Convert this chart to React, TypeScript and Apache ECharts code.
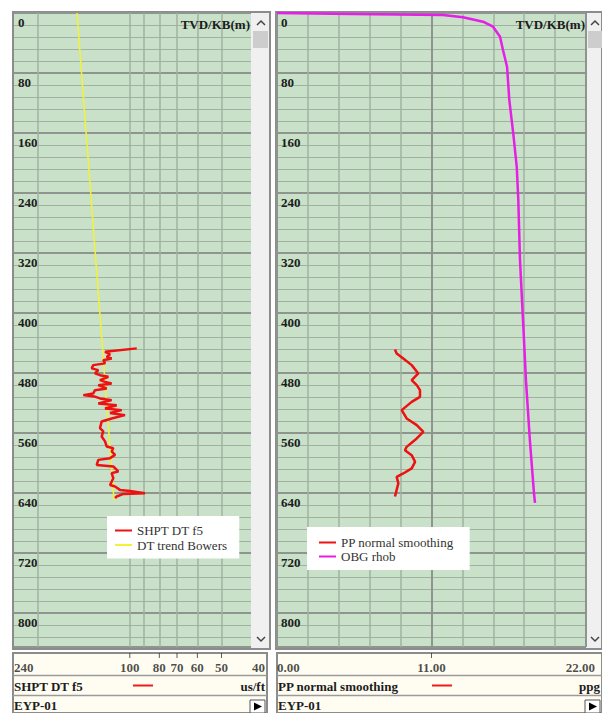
import React, { useEffect, useRef } from "react";
import * as echarts from "echarts";

// ---- axes ----
const DEPTH_MIN = 0;
const DEPTH_MAX = 845;
const DEPTH_MINOR = 16;
const DEPTH_MAJOR = 80;

const DT_MIN = 40;
const DT_MAX = 240;
const dtGridLines = [200, 100, 90, 80, 70, 60, 50];
const dtHeaderTicks = [100, 80, 70, 60, 50];
const dtHeaderLabels = [240, 100, 80, 70, 60, 50, 40];

const PP_MIN = 0;
const PP_MAX = 22;
const PP_MINOR = 2.2;
const PP_MAJOR = 11;
const ppHeaderTicks = [11];
const ppHeaderLabels = [0, 11, 22];

// ---- data (depth m, value) ----
const shptDepth = [447, 451.6, 454.7, 458.3, 460.4, 462.7, 467, 469.3, 473.7, 476, 480.4, 482.7, 484.9, 489.3, 491.6, 493.7, 496, 500.4, 502.7, 507, 509.3, 511, 513.7, 516, 520.4, 522.7, 527, 529.3, 533, 536, 540.4, 544.4, 553.3, 557.7, 564.4, 571, 577.7, 580, 584.4, 589, 593.3, 595.6, 602.3, 604.4, 611, 613.3, 620, 629, 631, 635.6, 637, 640, 641, 644.4, 646.7];
const shptDT = [94.9, 120.6, 116.1, 119.1, 114.7, 122.2, 120.6, 131.8, 133.4, 126.9, 130.1, 125.3, 117.6, 125.3, 120.6, 114.7, 126.9, 119.1, 130.1, 131.8, 142.1, 131, 125.3, 114.7, 126.9, 110.4, 120.6, 106.3, 116.1, 103.7, 114.7, 123.7, 125.3, 122.2, 123.7, 120.6, 119.1, 113.3, 114.7, 111.8, 116.1, 126.9, 128.4, 113.3, 109.1, 114.7, 113.3, 116.1, 111.8, 107.7, 99.8, 89.2, 105, 110.4, 111.8];

const trendDepth = [0, 100, 200, 300, 400, 500, 600, 650];
const trendDT = [149, 142.8, 136.7, 131, 125.4, 120.2, 115.1, 112.7];

const ppDepth = [448.4, 453.7, 460.4, 469.3, 480.4, 489.3, 496, 502.7, 511.6, 518.3, 529.3, 540.4, 549.3, 558.3, 567, 578.3, 582.7, 589.3, 598.3, 607, 613.7, 618.3, 627, 635.6, 644.4];
const ppValue = [8.4, 8.52, 8.99, 9.59, 10.06, 9.59, 9.95, 10.18, 10.18, 9.59, 8.88, 9.23, 9.95, 10.42, 9.95, 9.23, 9.11, 9.59, 9.83, 9.59, 8.99, 8.52, 8.64, 8.52, 8.4];

const obgDepth = [0, 1.3, 2.7, 5.7, 11.6, 18.3, 31.6, 49.3, 71.6, 116, 160.4, 205, 249, 329, 411, 491, 571, 641, 653];
const obgValue = [0, 5.41, 11.82, 13.24, 14.67, 15.38, 15.88, 16.09, 16.38, 16.54, 16.82, 17.07, 17.18, 17.3, 17.52, 17.73, 18.01, 18.3, 18.37];

const FONT = "Liberation Serif";
const GREEN = "#c8e1c8";
const MINOR = "#a2b0a2";
const MAJOR = "#8e948e";
const TEXT = "#1c1c1c";

const zip = (xs: number[], ys: number[]) => xs.map((x, i) => [x, ys[i]]);

function depthAxes(gridIndex: number) {
  return [
    {
      type: "value", gridIndex, position: "left", min: DEPTH_MIN, max: DEPTH_MAX, interval: DEPTH_MINOR, inverse: true,
      axisLine: { show: false }, axisTick: { show: false }, axisLabel: { show: false },
      splitLine: { show: true, lineStyle: { color: MINOR, width: 1 } },
    },
    {
      type: "value", gridIndex, position: "left", offset: 0, min: DEPTH_MIN, max: DEPTH_MAX, interval: DEPTH_MAJOR, inverse: true,
      axisLine: { show: false, onZero: false }, axisTick: { show: false },
      axisLabel: {
        show: true, inside: true, margin: 4, verticalAlign: "top", padding: [3, 0, 0, 0],
        fontFamily: FONT, fontWeight: "bold", fontSize: 13, color: TEXT,
        formatter: (v: number) => (v % DEPTH_MAJOR === 0 ? String(v) : ""),
      },
      splitLine: { show: true, lineStyle: { color: MAJOR, width: 2 } },
    },
  ];
}

function txt(text: string, x: number, y: number, align = "left", size = 13, bold = true) {
  return {
    type: "text", silent: true, z: 50,
    style: { text, x, y, align, verticalAlign: "middle", fontFamily: FONT, fontWeight: bold ? "bold" : "normal", fontSize: size, fill: TEXT },
  };
}
function rect(x: number, y: number, w: number, h: number, fill: string, stroke?: string, lw = 1, z = -5) {
  return { type: "rect", silent: true, z, shape: { x, y, width: w, height: h }, style: { fill, stroke: stroke || "none", lineWidth: lw } };
}
function hline(x1: number, x2: number, y: number, color: string, lw: number, z = 40) {
  return { type: "line", silent: true, z, shape: { x1, y1: y, x2, y2: y }, style: { stroke: color, lineWidth: lw } };
}
function chevron(cx: number, cy: number, up: boolean) {
  const d = up ? -2 : 2;
  return {
    type: "polyline", silent: true, z: 45,
    shape: { points: [[cx - 4, cy - d], [cx, cy + d], [cx + 4, cy - d]] },
    style: { stroke: "#444", lineWidth: 1.5, fill: "none" },
  };
}
function button(x: number) {
  return [
    rect(x, 700, 15, 13, "#ffffff", "#555", 1, 40),
    { type: "polygon", silent: true, z: 45, shape: { points: [[x + 4, 702.5], [x + 12, 706.5], [x + 4, 710.5]] }, style: { fill: "#000" } },
  ];
}

export default function App() {
  const ref = useRef<HTMLDivElement>(null);
  useEffect(() => {
    if (!ref.current) return;
    const chart = echarts.init(ref.current, null, { renderer: "svg" });
    const labelStyle = { fontFamily: FONT, fontWeight: "bold", fontSize: 13, color: TEXT };
    const lastDt = dtHeaderLabels.length - 1;
    const lastPp = ppHeaderLabels.length - 1;

    const graphic: any[] = [
      // panel frames
      rect(13, 12, 257, 637, "#f0f0f0", "#8c8c8c", 2, -10),
      rect(276, 12, 326, 637, "#f0f0f0", "#8c8c8c", 2, -10),
      // scrollbars
      rect(253, 31, 15, 17, "#cdcdcd", undefined, 1, 30),
      rect(588, 31, 14, 17, "#cdcdcd", undefined, 1, 30),
      chevron(261, 23, true), chevron(261, 639, false),
      chevron(595, 23, true), chevron(595, 639, false),
      // headers
      rect(13, 653, 254, 60, "#fffdf2", "#8c8c8c", 2, 20),
      rect(277, 653, 325, 60, "#fffdf2", "#8c8c8c", 2, 20),
      hline(13, 267, 675.5, "#9a9a9a", 1.5),
      hline(13, 267, 695.5, "#9a9a9a", 1.5),
      hline(277, 602, 675.5, "#9a9a9a", 1.5),
      hline(277, 602, 695.5, "#9a9a9a", 1.5),
      txt("TVD/KB(m)", 250, 24, "right"),
      txt("TVD/KB(m)", 585, 24, "right"),
      txt("SHPT DT f5", 14, 686),
      hline(133, 153, 685.5, "#ee1c1c", 2, 45),
      txt("us/ft", 265, 686, "right"),
      txt("EYP-01", 14, 705),
      ...button(250),
      txt("PP normal smoothing", 278, 686),
      hline(432, 452, 685.5, "#ee1c1c", 2, 45),
      txt("ppg", 600, 686, "right"),
      txt("EYP-01", 278, 705),
      ...button(585),
    ];

    const option: any = {
      animation: false,
      graphic,
      grid: [
        { left: 14, top: 13, width: 237, height: 634, show: true, backgroundColor: GREEN, borderWidth: 0 },
        { left: 277, top: 13, width: 309, height: 634, show: true, backgroundColor: GREEN, borderWidth: 0 },
        { left: 14, top: 653, width: 237, height: 22 },
        { left: 277, top: 653, width: 309, height: 22 },
      ],
      xAxis: [
        { type: "log", gridIndex: 0, min: DT_MIN, max: DT_MAX, inverse: true, show: false, splitLine: { show: false } },
        {
          type: "value", gridIndex: 1, min: PP_MIN, max: PP_MAX, interval: PP_MINOR,
          axisLine: { show: false }, axisTick: { show: false }, axisLabel: { show: false },
          splitLine: { show: true, lineStyle: { color: MINOR, width: 1.5 } },
        },
        {
          type: "value", gridIndex: 1, min: PP_MIN, max: PP_MAX, interval: PP_MAJOR,
          axisLine: { show: false }, axisTick: { show: false }, axisLabel: { show: false },
          splitLine: { show: true, lineStyle: { color: MAJOR, width: 2 } },
        },
        { type: "log", gridIndex: 2, min: DT_MIN, max: DT_MAX, inverse: true, show: false },
        { type: "value", gridIndex: 3, min: PP_MIN, max: PP_MAX, show: false },
      ],
      yAxis: [
        ...depthAxes(0),
        ...depthAxes(1),
        { type: "value", gridIndex: 2, min: 0, max: 1, show: false },
        { type: "value", gridIndex: 3, min: 0, max: 1, show: false },
      ],
      legend: [
        {
          data: ["SHPT DT f5", "DT trend Bowers"], left: 107, top: 516, orient: "vertical",
          backgroundColor: "#ffffff", padding: [8, 12, 7, 8], itemGap: 1.5, itemWidth: 17, itemHeight: 2,
          icon: "rect", selectedMode: false, textStyle: { fontFamily: FONT, fontSize: 13, color: "#333" },
        },
        {
          data: ["PP normal smoothing", "OBG rhob"], left: 307, top: 527, orient: "vertical",
          backgroundColor: "#ffffff", padding: [9, 16, 7, 12], itemGap: 1, itemWidth: 17, itemHeight: 2,
          icon: "rect", selectedMode: false, textStyle: { fontFamily: FONT, fontSize: 13, color: "#333" },
        },
      ],
      series: [
        {
          name: "DT trend Bowers", type: "line", xAxisIndex: 0, yAxisIndex: 1,
          data: zip(trendDT, trendDepth), showSymbol: false, silent: true, z: 3,
          lineStyle: { color: "#f2f23a", width: 1.5 }, itemStyle: { color: "#f2f23a" },
          markLine: {
            silent: true, symbol: "none", z: 1, animation: false, label: { show: false },
            lineStyle: { color: MINOR, width: 1.5, type: "solid" },
            emphasis: { disabled: true },
            data: dtGridLines.map((v) => ({ xAxis: v })),
          },
        },
        {
          name: "SHPT DT f5", type: "line", xAxisIndex: 0, yAxisIndex: 1,
          data: zip(shptDT, shptDepth), showSymbol: false, silent: true, z: 4,
          lineStyle: { color: "#ee1111", width: 2.5 }, itemStyle: { color: "#ee1111" },
        },
        {
          name: "PP normal smoothing", type: "line", xAxisIndex: 1, yAxisIndex: 3,
          data: zip(ppValue, ppDepth), showSymbol: false, silent: true, z: 4,
          lineStyle: { color: "#ee1111", width: 2.5 }, itemStyle: { color: "#ee1111" },
        },
        {
          name: "OBG rhob", type: "line", xAxisIndex: 1, yAxisIndex: 3,
          data: zip(obgValue, obgDepth), showSymbol: false, silent: true, z: 4,
          lineStyle: { color: "#e51fe5", width: 2.5 }, itemStyle: { color: "#e51fe5" },
        },
        // header tick marks
        {
          type: "scatter", xAxisIndex: 3, yAxisIndex: 4, silent: true, z: 60,
          data: dtHeaderTicks.map((v) => [v, 1]), symbol: "rect", symbolSize: [1, 5], symbolOffset: [0, 2.5],
          itemStyle: { color: "#333" },
        },
        {
          type: "scatter", xAxisIndex: 4, yAxisIndex: 5, silent: true, z: 60,
          data: ppHeaderTicks.map((v) => [v, 1]), symbol: "rect", symbolSize: [1, 5], symbolOffset: [0, 2.5],
          itemStyle: { color: "#333" },
        },
        // header labels
        {
          type: "scatter", xAxisIndex: 3, yAxisIndex: 4, silent: true, z: 60, symbolSize: 1,
          itemStyle: { color: "transparent" },
          data: dtHeaderLabels.map((v, i) => ({
            value: [v, 0.32],
            label: {
              align: i === 0 ? "left" : i === lastDt ? "right" : "center",
              offset: i === lastDt ? [14, 0] : [0, 0],
            },
          })),
          label: { show: true, position: "inside", formatter: (p: any) => String(p.value[0]), ...labelStyle },
        },
        {
          type: "scatter", xAxisIndex: 4, yAxisIndex: 5, silent: true, z: 60, symbolSize: 1,
          itemStyle: { color: "transparent" },
          data: ppHeaderLabels.map((v, i) => ({
            value: [v, 0.32],
            label: {
              align: i === 0 ? "left" : i === lastPp ? "right" : "center",
              offset: i === lastPp ? [9, 0] : [0, 0],
            },
          })),
          label: { show: true, position: "inside", formatter: (p: any) => Number(p.value[0]).toFixed(2), ...labelStyle },
        },
      ],
    };
    chart.setOption(option);
    return () => chart.dispose();
  }, []);
  return (
    <div
      ref={ref}
      style={{ position: "fixed", left: 0, top: 0, width: 602, height: 713, background: "#ffffff" }}
    />
  );
}
